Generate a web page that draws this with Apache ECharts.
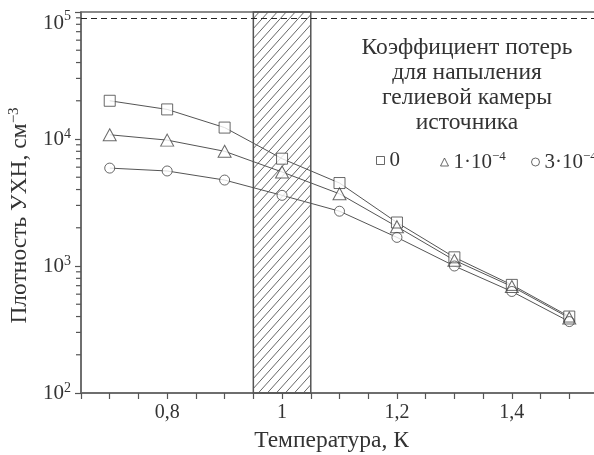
<!DOCTYPE html>
<html><head><meta charset="utf-8">
<script src="https://cdn.jsdelivr.net/npm/echarts@6/dist/echarts.min.js"></script>
<style>html,body{margin:0;padding:0;background:#fff}#c{width:594px;height:455px}</style>
</head><body><div id="c"></div>
<script>
// ---- data ----
const temps = [0.7, 0.8, 0.9, 1.0, 1.1, 1.2, 1.3, 1.4, 1.5];
const dens0 = [20000, 17100, 12300, 7000, 4500, 2200, 1170, 710, 400];
const dens1 = [10800, 9800, 8000, 5500, 3700, 2040, 1110, 690, 390];
const dens3 = [5900, 5600, 4750, 3600, 2700, 1680, 1000, 630, 365];
const seriesBase = ['0', '1·10', '3·10'];
const seriesExp = ['', '−4', '−4'];
const legendTitle = ['Коэффициент потерь', 'для напыления', 'гелиевой камеры', 'источника'];
const bandRange = [0.95, 1.05];
const limitLine = 90000;
const yDecades = [100, 1000, 10000];
const yMinorMult = [2, 3, 4, 5, 6, 7, 8, 9];
const xAxisTitle = 'Температура, К';
const yAxisTitle = 'Плотность УХН, см';
const yAxisExp = '−3';

const names = seriesBase.map((b, i) => b + seriesExp[i]);
const symbols = ['rect', 'triangle', 'circle'];
const sizes = [11, [13, 12], 10];
const allDens = [dens0, dens1, dens3];
const minorY = [];
yDecades.forEach(d => yMinorMult.forEach(m => minorY.push(m * d)));

const SERIF = '"Liberation Serif","DejaVu Serif",serif';
const INK = '#333';
const LINE = '#555';

// hatch pattern
const pc = document.createElement('canvas');
const PW = 9, PH = 10;
pc.width = PW; pc.height = PH;
const cx = pc.getContext('2d');
cx.strokeStyle = '#666'; cx.lineWidth = 1;
cx.beginPath();
cx.moveTo(0, PH); cx.lineTo(PW, 0);
cx.moveTo(-PW, PH); cx.lineTo(0, 0);
cx.moveTo(PW, PH); cx.lineTo(2 * PW, 0);
cx.stroke();

const chart = echarts.init(document.getElementById('c'), null, {renderer: 'canvas'});

const series = [];
series.push({
  type: 'line', name: '_band', data: [], z: 1, silent: true,
  markArea: {
    silent: true,
    itemStyle: {color: {image: pc, repeat: 'repeat'}, borderColor: LINE, borderWidth: 1.5},
    data: [[{xAxis: bandRange[0]}, {xAxis: bandRange[1]}]]
  },
  markLine: {
    silent: true, symbol: ['none', 'none'], label: {show: false},
    lineStyle: {type: [6, 4], color: '#222', width: 1.2},
    data: [{yAxis: limitLine}]
  }
});
allDens.forEach((d, i) => series.push({
  type: 'line', name: '_l' + i, data: temps.map((t, j) => [t, d[j]]),
  showSymbol: false, z: 2, silent: true,
  lineStyle: {color: LINE, width: 1}
}));
allDens.forEach((d, i) => series.push({
  type: 'scatter', name: '_b' + i, data: temps.map((t, j) => [t, d[j]]),
  symbol: symbols[i], symbolSize: sizes[i], z: 3, silent: true,
  itemStyle: {color: '#fff', borderWidth: 0}
}));
allDens.forEach((d, i) => series.push({
  type: 'scatter', name: names[i], data: temps.map((t, j) => [t, d[j]]),
  symbol: symbols[i], symbolSize: sizes[i], z: 4, silent: true,
  itemStyle: {color: 'rgba(255,255,255,0)', borderColor: '#444', borderWidth: 1}
}));
series.push({
  type: 'custom', name: '_minor', coordinateSystem: 'cartesian2d', clip: false, silent: true, z: 5,
  data: minorY.map(v => [0.65, v]),
  renderItem: (params, api) => {
    const p = api.coord([api.value(0), api.value(1)]);
    return {type: 'line', shape: {x1: p[0] - 5, y1: p[1], x2: p[0], y2: p[1]},
      style: {stroke: LINE, lineWidth: 1.2}};
  }
});

const legRich = {
  t: {fontFamily: SERIF, fontSize: 21, color: INK, lineHeight: 24},
  s: {fontFamily: SERIF, fontSize: 13, color: INK, verticalAlign: 'top', lineHeight: 24}
};
const legLefts = [376, 440, 531];
const legends = names.map((n, i) => ({
  data: [{name: n, icon: symbols[i],
          itemStyle: {color: '#fff', borderColor: '#444', borderWidth: 1}}],
  left: legLefts[i], top: 150, itemWidth: 8, itemHeight: 8, itemGap: 0,
  padding: 0, selectedMode: false,
  formatter: () => '{t|' + seriesBase[i] + '}' + (seriesExp[i] ? '{s|' + seriesExp[i] + '}' : ''),
  textStyle: {rich: legRich}
}));

chart.setOption({
  animation: false,
  backgroundColor: '#fff',
  grid: {left: 81, top: 12, width: 517, height: 381, show: true, borderColor: '#666', borderWidth: 1.5,
    containLabel: false, outerBoundsMode: 'none'},
  legend: legends,
  graphic: [{
    type: 'text', silent: true,
    style: {text: legendTitle.join('\n'), x: 467, y: 35, textAlign: 'center', textVerticalAlign: 'top',
      font: '23.5px ' + SERIF, lineHeight: 25, fill: INK}
  }],
  xAxis: {
    type: 'value', min: 0.65, max: 1.55, interval: 0.05,
    name: xAxisTitle, nameLocation: 'middle', nameGap: 36,
    nameTextStyle: {fontFamily: SERIF, fontSize: 23.5, color: INK, padding: [0, 16, 0, 0]},
    axisLine: {show: true, lineStyle: {color: '#666', width: 1.5}},
    axisTick: {show: true, inside: false, length: 6, lineStyle: {color: LINE, width: 1.2}},
    splitLine: {show: false},
    axisLabel: {
      margin: 10, fontFamily: SERIF, fontSize: 20, color: INK,
      formatter: v => {
        const k = Math.round(v * 20);
        return k % 4 === 0 ? String(k / 20).replace('.', ',') : '';
      }
    }
  },
  yAxis: {
    type: 'log', logBase: 10, min: 100, max: 100000,
    name: '{a|' + yAxisTitle + '}{s|' + yAxisExp + '}', nameLocation: 'middle', nameGap: 47,
    nameTextStyle: {
      padding: [0, 26, 0, 0],
      rich: {
        a: {fontFamily: SERIF, fontSize: 23.5, color: INK, lineHeight: 27},
        s: {fontFamily: SERIF, fontSize: 15, color: INK, verticalAlign: 'top', lineHeight: 27}
      }
    },
    axisLine: {show: true, lineStyle: {color: '#666', width: 1.5}},
    axisTick: {show: true, inside: false, length: 6, lineStyle: {color: LINE, width: 1.2}},
    splitLine: {show: false},
    minorTick: {show: false},
    axisLabel: {
      margin: 10, showMinLabel: true, showMaxLabel: true,
      formatter: v => {
        const e = Math.round(Math.log10(v));
        return e === 5 ? '{bt|10}{st|' + e + '}{sp|\u200b}' : '{b|10}{s|' + e + '}';
      },
      rich: {
        b: {fontFamily: SERIF, fontSize: 21, color: INK, lineHeight: 24},
        s: {fontFamily: SERIF, fontSize: 14, color: INK, verticalAlign: 'top', lineHeight: 24},
        bt: {fontFamily: SERIF, fontSize: 21, color: INK, lineHeight: 24, verticalAlign: 'bottom'},
        st: {fontFamily: SERIF, fontSize: 14, color: INK, lineHeight: 14, verticalAlign: 'bottom', padding: [0, 0, 11, 0]},
        sp: {fontSize: 1, lineHeight: 44, width: 0}
      }
    }
  },
  series: series
});
</script></body></html>
